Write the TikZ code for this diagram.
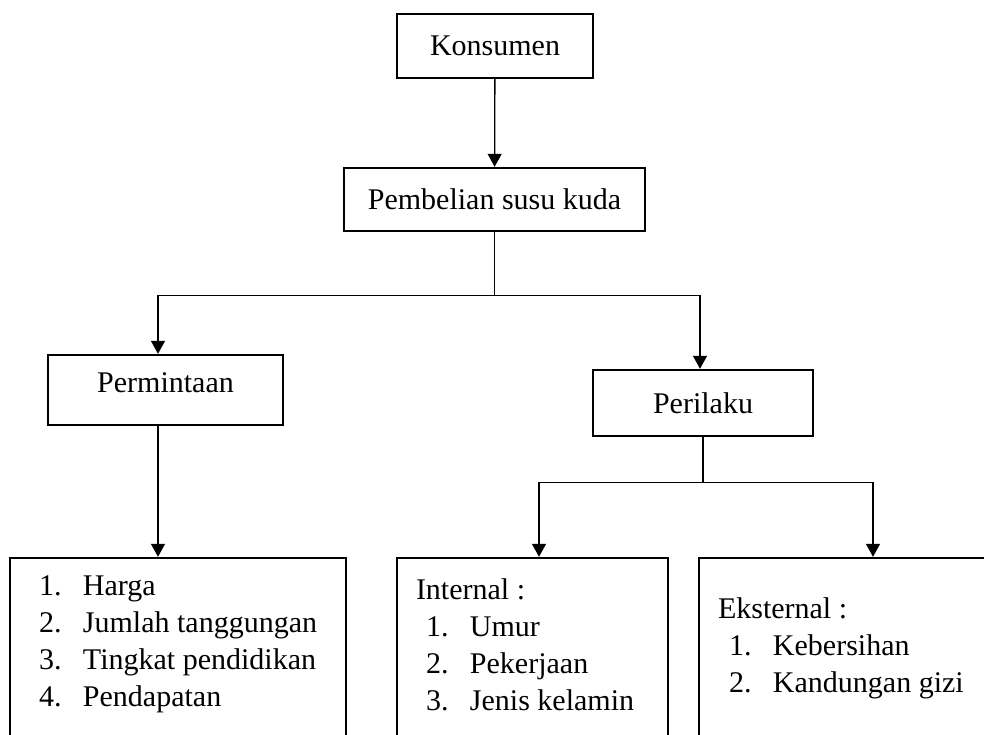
\documentclass[tikz,border=0pt]{standalone}
\usepackage{fontspec}
\setmainfont{Liberation Serif}
\usetikzlibrary{arrows.meta}
\usetikzlibrary{positioning}

\newcommand{\numitem}[2]{\makebox[44pt][l]{#1}#2}

\begin{document}
\begin{tikzpicture}[x=1pt,y=-1pt,
    block/.style={draw,line width=2.4pt,inner sep=0pt,
      font=\fontsize{30}{37}\selectfont},
    listtext/.style={anchor=base west,inner sep=0pt,
      font=\fontsize{30}{37}\selectfont},
    link/.style={line width=1.3pt},
    arrow/.style={link,-{Triangle[width=14pt,length=13pt]}}]
        \clip (0,0) rectangle (984,734);
        % top of the tree
        \node[block,minimum width=196pt,minimum height=64pt] (konsumen) at (495,46) {Konsumen};
        \node[block,minimum width=301pt,minimum height=63pt] (pembelian) at (494.5,199.5) {Pembelian susu kuda};
        \node[block,minimum width=235pt,minimum height=70pt,text depth=14pt] (permintaan) at (165.5,390) {Permintaan};
        \node[block,minimum width=220pt,minimum height=66pt] (perilaku) at (703,403) {Perilaku};
        % bottom boxes, cut off by the page edge
        \node[block,minimum width=336pt,minimum height=202pt] (harga) at (178,659) {};
        \node[block,minimum width=271pt,minimum height=202pt] (internal) at (532.5,659) {};
        \node[block,minimum width=301pt,minimum height=202pt] (eksternal) at (849.5,659) {};
        \node[listtext] (hargalist) at ([shift={(30,39)}]harga.north west) {%
          \begin{tabular}[t]{@{}l@{}}
            \numitem{1.}{Harga}\\
            \numitem{2.}{Jumlah tanggungan}\\
            \numitem{3.}{Tingkat pendidikan}\\
            \numitem{4.}{Pendapatan}
          \end{tabular}};
        \node[listtext] (internallist) at ([shift={(20,43)}]internal.north west) {%
          \begin{tabular}[t]{@{}l@{}}
            Internal :\\
            \hspace{10pt}\numitem{1.}{Umur}\\
            \hspace{10pt}\numitem{2.}{Pekerjaan}\\
            \hspace{10pt}\numitem{3.}{Jenis kelamin}
          \end{tabular}};
        \node[listtext] (eksternallist) at ([shift={(20,62)}]eksternal.north west) {%
          \begin{tabular}[t]{@{}l@{}}
            Eksternal :\\
            \hspace{11pt}\numitem{1.}{Kebersihan}\\
            \hspace{11pt}\numitem{2.}{Kandungan gizi}
          \end{tabular}};
        % connectors
        \coordinate (fork1) at ([yshift=-63pt]pembelian.south);
        \coordinate (fork2) at ([yshift=-45pt]perilaku.south);
        \draw[arrow] (konsumen) -- (pembelian);
        \draw[link] (pembelian) -- (fork1);
        \draw[arrow] (fork1) -| ([xshift=-7.5pt]permintaan.north);
        \draw[arrow] (fork1) -| ([xshift=-3pt]perilaku.north);
        \draw[arrow] ([xshift=-7.5pt]permintaan.south) -- ([xshift=-7.5pt]permintaan.south |- harga.north);
        \draw[link] (perilaku) -- (fork2);
        \draw[arrow] (fork2) -| ([xshift=6.5pt]internal.north);
        \draw[arrow] (fork2) -| ([xshift=23.5pt]eksternal.north);
      \end{tikzpicture}
\end{document}
